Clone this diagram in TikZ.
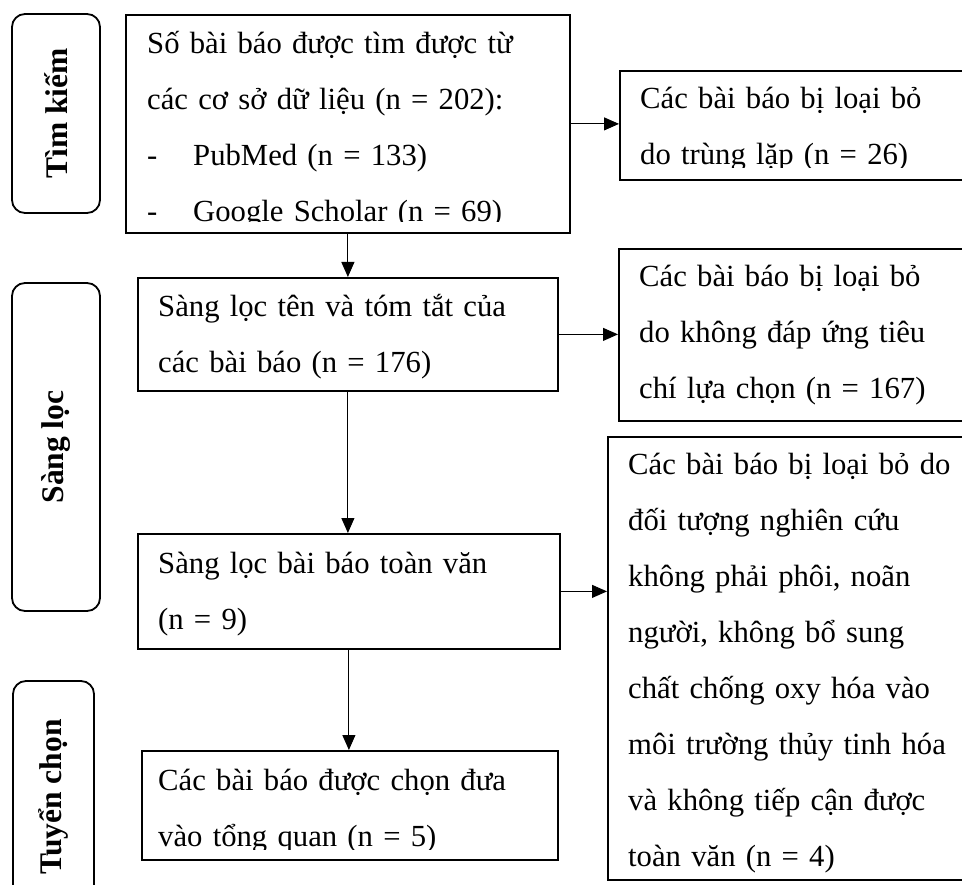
\documentclass[tikz,border=0pt]{standalone}
\usepackage{fontspec}
\setmainfont{Liberation Serif}
\usepackage{tikz}
\usetikzlibrary{positioning, arrows.meta, calc}

\begin{document}
\begin{tikzpicture}[x=1pt, y=-1pt,
  stage/.style={draw, line width=1.8pt, rounded corners=13pt, rotate=90, inner sep=0pt,
                font=\fontsize{31.5}{40}\selectfont\bfseries},
  stepbox/.style={draw, line width=1.8pt, rectangle, inner sep=0pt, anchor=north west},
  txt/.style={anchor=base west, inner sep=0pt, text width=420pt,
              font=\fontsize{30.7}{56}\selectfont},
  arrow/.style={-{Triangle[length=15pt, width=13pt]}, line width=1pt}
]
  \useasboundingbox (0,0) rectangle (962,885);

  \node[stage, minimum width=199pt, minimum height=88pt] (search) at (56,113.5) {Tìm kiếm};
  \node[stage, minimum width=328pt, minimum height=88pt] (screen) at (56,447) {Sàng lọc};
  \node[stage, minimum width=232pt, minimum height=81pt] (select) at (53.5,797) {Tuyển chọn};

  \node[stepbox, minimum width=444pt, minimum height=218pt] (found) at (125,14) {};
  \node[stepbox, minimum width=420pt, minimum height=113pt] (title) at (137,277) {};
  \node[stepbox, minimum width=422pt, minimum height=115pt] (full) at (137,533) {};
  \node[stepbox, minimum width=416pt, minimum height=109pt] (incl) at (141,750) {};
  \node[stepbox, minimum width=350pt, minimum height=109pt] (dupl) at (619,70) {};
  \node[stepbox, minimum width=350pt, minimum height=172pt] (crit) at (618,248) {};
  \node[stepbox, minimum width=360pt, minimum height=443pt] (excl) at (607,436) {};

  \begin{scope}
    \clip (found.north west) rectangle (569,222);
    \node[txt] (foundtxt) at (147,54) {Số bài báo được tìm được từ\\
      các cơ sở dữ liệu (n = 202):\\
      \makebox[46pt][l]{-}PubMed (n = 133)\\
      \makebox[46pt][l]{-}Google Scholar (n = 69)};
  \end{scope}
  \begin{scope}
    \clip (dupl.north west) rectangle (969,168);
    \node[txt] (dupltxt) at (640,109) {Các bài báo bị loại bỏ\\do trùng lặp (n = 26)};
  \end{scope}
  \begin{scope}
    \clip (incl.north west) rectangle (557,849);
    \node[txt] (incltxt) at (158,790) {Các bài báo được chọn đưa\\vào tổng quan (n = 5)};
  \end{scope}
  \node[txt] (titletxt) at (158,317) {Sàng lọc tên và tóm tắt của\\các bài báo (n = 176)};
  \node[txt] (fulltxt) at (158,573) {Sàng lọc bài báo toàn văn\\(n = 9)};
  \node[txt] (crittxt) at (639,287) {Các bài báo bị loại bỏ\\do không đáp ứng tiêu\\chí lựa chọn (n = 167)};
  \node[txt] (excltxt) at (628,475) {Các bài báo bị loại bỏ do\\đối tượng nghiên cứu\\
    không phải phôi, noãn\\người, không bổ sung\\chất chống oxy hóa vào\\
    môi trường thủy tinh hóa\\và không tiếp cận được\\toàn văn (n = 4)};

  \draw[arrow] (found.east) -- (found.east -| dupl.west);
  \draw[arrow] (title.east) -- (title.east -| crit.west);
  \draw[arrow] (full.east) -- (full.east -| excl.west);
  \draw[arrow] (found.south) -- (found.south |- title.north);
  \draw[arrow] (title.south) -- (title.south |- full.north);
  \draw[arrow] (full.south) -- (full.south |- incl.north);
\end{tikzpicture}
\end{document}
